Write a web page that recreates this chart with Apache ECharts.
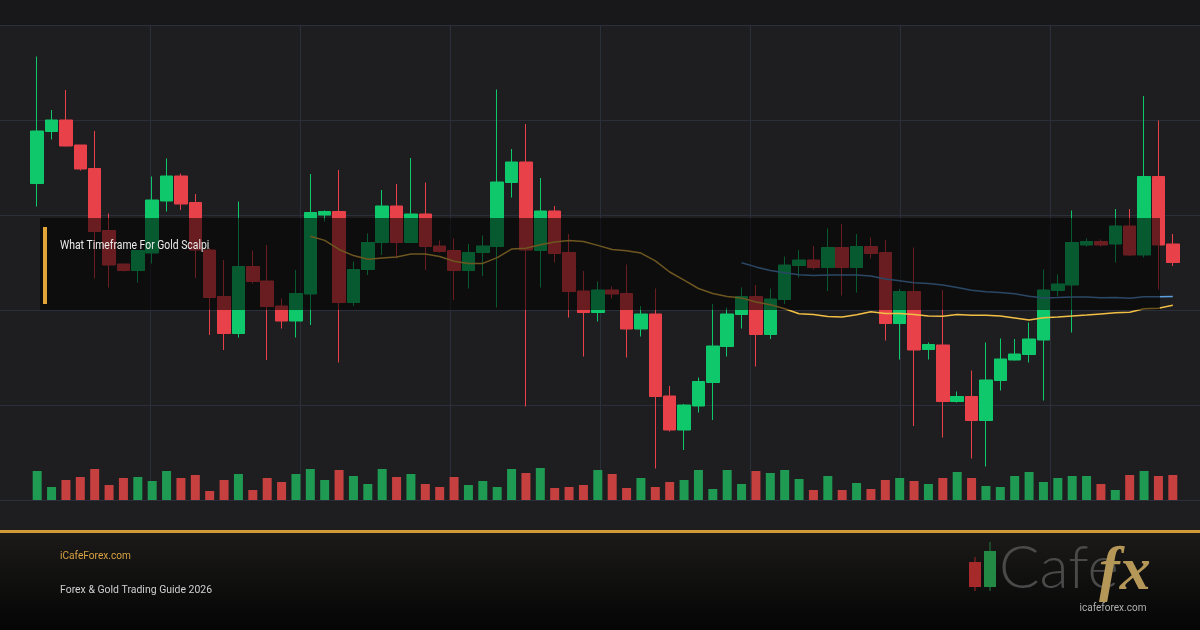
<!DOCTYPE html>
<html>
<head>
<meta charset="utf-8">
<title>What Timeframe For Gold Scalping</title>
<script src="https://cdn.jsdelivr.net/npm/echarts@6/dist/echarts.min.js"></script>
<style>
  html, body { margin: 0; padding: 0; background: #1e1e20; }
  #chart { width: 1200px; height: 630px; }
</style>
</head>
<body>
<div id="chart"></div>
<script>
// candle values (XAU/USD)
const open = [
  2363.3, 2373.7, 2376.0, 2371.0, 2366.3, 2353.9, 2347.2, 2345.9, 2349.4, 2359.8,
  2364.8, 2359.5, 2350.0, 2340.7, 2333.3, 2346.7, 2343.8, 2338.8, 2335.8, 2341.2,
  2357.0, 2357.7, 2339.5, 2346.1, 2351.5, 2358.8, 2351.5, 2357.2, 2350.8, 2349.9,
  2345.9, 2349.5, 2350.7, 2363.5, 2367.6, 2349.9, 2357.8, 2349.5, 2341.8, 2337.5,
  2342.0, 2341.3, 2334.2, 2337.2, 2320.8, 2314.0, 2318.8, 2323.5, 2330.7, 2337.1,
  2340.7, 2333.1, 2340.1, 2346.9, 2348.0, 2346.5, 2350.5, 2346.5, 2350.7, 2349.5,
  2335.3, 2341.7, 2330.1, 2331.0, 2319.7, 2320.7, 2315.9, 2323.9, 2328.0, 2329.1,
  2332.0, 2341.9, 2343.0, 2351.0, 2351.7, 2351.2, 2354.8, 2349.0, 2364.7, 2351.2
];
const close = [
  2373.8, 2376.0, 2370.8, 2366.2, 2353.7, 2347.0, 2345.9, 2349.9, 2360.0, 2364.8,
  2359.2, 2350.0, 2340.5, 2333.3, 2346.7, 2343.7, 2338.7, 2335.8, 2341.3, 2357.5,
  2357.7, 2339.5, 2346.1, 2351.5, 2358.8, 2351.5, 2357.2, 2350.7, 2349.7, 2345.9,
  2349.5, 2350.8, 2363.6, 2367.6, 2350.0, 2357.8, 2349.3, 2341.7, 2337.5, 2342.0,
  2341.2, 2334.2, 2337.2, 2320.7, 2314.0, 2319.0, 2323.7, 2330.8, 2337.2, 2340.7,
  2333.1, 2340.2, 2347.0, 2348.0, 2346.5, 2350.5, 2346.5, 2350.7, 2349.3, 2335.3,
  2341.7, 2330.0, 2331.1, 2319.7, 2320.7, 2315.9, 2324.0, 2328.2, 2329.2, 2332.2,
  2342.0, 2343.2, 2351.5, 2351.7, 2351.0, 2354.8, 2349.0, 2364.7, 2351.0, 2347.5
];
const low = [
  2358.7, 2372.1, 2370.7, 2365.9, 2344.3, 2342.5, 2345.7, 2343.5, 2347.3, 2357.7,
  2358.0, 2344.4, 2333.0, 2330.0, 2332.5, 2343.3, 2328.0, 2334.3, 2332.5, 2335.0,
  2355.7, 2327.5, 2338.8, 2345.0, 2349.0, 2348.3, 2351.4, 2346.0, 2349.5, 2340.0,
  2342.3, 2344.8, 2338.5, 2360.5, 2318.7, 2342.5, 2347.5, 2336.5, 2328.7, 2335.7,
  2340.3, 2328.5, 2332.7, 2306.3, 2313.7, 2310.0, 2317.5, 2316.0, 2328.7, 2334.3,
  2326.7, 2332.2, 2339.2, 2344.5, 2346.1, 2341.8, 2340.9, 2341.5, 2348.3, 2331.9,
  2328.1, 2314.8, 2328.1, 2312.5, 2319.5, 2308.3, 2306.7, 2321.9, 2327.9, 2327.5,
  2319.9, 2340.7, 2333.5, 2350.7, 2350.7, 2347.5, 2348.8, 2348.5, 2342.1, 2346.8
];
const high = [
  2388.7, 2378.0, 2382.0, 2371.0, 2373.8, 2357.3, 2347.2, 2349.9, 2364.7, 2368.3,
  2365.3, 2361.2, 2350.4, 2348.0, 2359.7, 2349.9, 2351.0, 2340.3, 2346.0, 2365.2,
  2357.9, 2366.0, 2347.7, 2353.3, 2362.0, 2363.2, 2368.4, 2363.5, 2351.9, 2352.3,
  2351.2, 2352.9, 2382.1, 2370.2, 2375.2, 2364.4, 2358.8, 2353.2, 2345.8, 2343.7,
  2342.7, 2347.1, 2338.8, 2342.3, 2322.8, 2319.2, 2324.5, 2339.2, 2338.5, 2342.5,
  2343.0, 2342.3, 2348.7, 2350.0, 2350.8, 2354.3, 2355.2, 2353.2, 2352.5, 2352.0,
  2342.2, 2350.5, 2331.5, 2342.0, 2321.7, 2325.9, 2331.5, 2332.3, 2332.2, 2335.5,
  2346.1, 2345.1, 2357.9, 2352.3, 2352.1, 2358.2, 2358.2, 2380.8, 2375.9, 2353.2
];
const volume = [
  2900, 1300, 2000, 2300, 3100, 1500, 2200, 2300, 1900, 2900,
  2200, 2500,  900, 2000, 2600, 1000, 2200, 1800, 2600, 3100,
  2000, 3000, 2400, 1600, 3100, 2300, 2600, 1600, 1300, 2300,
  1500, 1900, 1300, 3100, 2700, 3200, 1200, 1300, 1500, 3000,
  2600, 1200, 2200, 1300, 1800, 2000, 3000, 1100, 3000, 1600,
  2900, 2700, 3000, 2100, 1000, 2400, 1000, 1700, 1100, 2000,
  2200, 1900, 1600, 2200, 2800, 2200, 1400, 1300, 2400, 2800,
  1800, 2200, 2400, 2400, 1600, 1000, 2500, 2900, 2400, 2500
];
const categories = open.map((_, i) => 'Bar ' + (i + 1));

const titleText = 'What Timeframe For Gold Scalpi';
const siteText = 'iCafeForex.com';
const guideText = 'Forex & Gold Trading Guide 2026';

const upColor = '#10c86c';
const downColor = '#e8414a';
const volUp = '#1f9a52';
const volDown = '#c5403f';
const lineColor = '#2b2f3c';

// simple moving average of closes
function movingAverage(n) {
  return close.map((_, i) => {
    if (i < n - 1) return '-';
    let s = 0;
    for (let k = i - n + 1; k <= i; k++) s += close[k];
    return +(s / n).toFixed(2);
  });
}

const chart = echarts.init(document.getElementById('chart'));

const hidden = { axisLine: { show: false }, axisTick: { show: false }, axisLabel: { show: false } };

const option = {
  backgroundColor: '#1e1e20',
  animation: false,
  grid: [
    { left: 30, right: 20, top: 0, bottom: 130 },    // candles
    { left: 30, right: 20, top: 440, bottom: 130 },  // volume
    { left: 0, right: 0, top: 25, bottom: 130 },     // horizontal background lines
    { left: 150, right: 150, top: 25, bottom: 130 }  // vertical background lines
  ],
  xAxis: [
    { type: 'category', data: categories, gridIndex: 0, ...hidden, splitLine: { show: false } },
    { type: 'category', data: categories, gridIndex: 1, ...hidden, splitLine: { show: false } },
    { type: 'value', gridIndex: 2, min: 0, max: 1200, ...hidden, splitLine: { show: false } },
    { type: 'value', gridIndex: 3, min: 0, max: 900, interval: 150, ...hidden,
      splitLine: { show: true, lineStyle: { color: lineColor, width: 1 } } }
  ],
  yAxis: [
    { type: 'value', gridIndex: 0, min: 2300, max: 2400, ...hidden, splitLine: { show: false } },
    { type: 'value', gridIndex: 1, min: 0, max: 6000, ...hidden, splitLine: { show: false } },
    { type: 'value', gridIndex: 2, min: 0, max: 475, interval: 95, ...hidden,
      splitLine: { show: true, lineStyle: { color: lineColor, width: 1 } } },
    { type: 'value', gridIndex: 3, min: 0, max: 475, ...hidden, splitLine: { show: false } }
  ],
  series: [
    {
      name: 'XAUUSD',
      type: 'candlestick',
      xAxisIndex: 0,
      yAxisIndex: 0,
      barWidth: 13,
      data: open.map((o, i) => [o, close[i], low[i], high[i]]),
      itemStyle: {
        color: upColor,
        color0: downColor,
        borderColor: upColor,
        borderColor0: downColor,
        borderWidth: 1
      },
      emphasis: { disabled: true }
    },
    {
      name: 'MA20',
      type: 'line',
      xAxisIndex: 0,
      yAxisIndex: 0,
      data: movingAverage(20),
      showSymbol: false,
      lineStyle: { color: '#f2bf45', width: 1.5 },
      z: 3,
      emphasis: { disabled: true }
    },
    {
      name: 'MA50',
      type: 'line',
      xAxisIndex: 0,
      yAxisIndex: 0,
      data: movingAverage(50),
      showSymbol: false,
      lineStyle: { color: '#5d9fe0', width: 1.5 },
      z: 3,
      emphasis: { disabled: true }
    },
    {
      name: 'Volume',
      type: 'bar',
      xAxisIndex: 1,
      yAxisIndex: 1,
      barWidth: 9,
      data: volume.map((v, i) => ({
        value: v,
        itemStyle: { color: close[i] >= open[i] ? volUp : volDown }
      })),
      emphasis: { disabled: true }
    }
  ],
  graphic: [
    // darker strip at the very top
    { type: 'rect', z: -10, shape: { x: 0, y: 0, width: 1200, height: 25 }, style: { fill: '#18181b' } },
    // footer
    { type: 'rect', z: 10, shape: { x: 0, y: 533, width: 1200, height: 97 },
      style: { fill: new echarts.graphic.LinearGradient(0, 0, 0, 1, [
        { offset: 0, color: '#1b1a19' },
        { offset: 1, color: '#050505' }
      ]) } },
    { type: 'rect', z: 11, shape: { x: 0, y: 530, width: 1200, height: 3 }, style: { fill: '#d39a38' } },
    { type: 'text', z: 12, x: 60, y: 556, scaleX: 0.92,
      style: { text: siteText, fill: '#d9a242', font: '11px Roboto', verticalAlign: 'middle' } },
    { type: 'text', z: 12, x: 60, y: 590, scaleX: 0.95,
      style: { text: guideText, fill: '#d0d0d0', font: '11px Roboto', verticalAlign: 'middle' } },
    // logo
    { type: 'line', z: 12, shape: { x1: 975, y1: 557, x2: 975, y2: 591 }, style: { stroke: '#9e2626', lineWidth: 1 } },
    { type: 'rect', z: 12, shape: { x: 969, y: 562, width: 12, height: 25 }, style: { fill: '#a62a2a' } },
    { type: 'line', z: 12, shape: { x1: 990, y1: 542, x2: 990, y2: 591 }, style: { stroke: '#1f7a3c', lineWidth: 1 } },
    { type: 'rect', z: 12, shape: { x: 984, y: 551, width: 12, height: 36 }, style: { fill: '#238a45' } },
    { type: 'text', z: 12, x: 999, y: 569, style: { text: 'Cafe', fill: '#4a4a4a', font: '300 60px Lato', verticalAlign: 'middle' } },
    { type: 'text', z: 12, x: 1099, y: 573, style: { text: 'fx', fill: '#b59758', font: 'italic bold 62px "Liberation Serif"', verticalAlign: 'middle' } },
    { type: 'text', z: 12, x: 1113, y: 608, style: { text: 'icafeforex.com', fill: '#b0b0b0', font: '10px Roboto', align: 'center', verticalAlign: 'middle' } },
    // dark title band over the chart
    { type: 'rect', z: 50, shape: { x: 40, y: 218, width: 1120, height: 92 }, style: { fill: 'rgba(0,0,0,0.55)' } },
    { type: 'rect', z: 51, shape: { x: 43, y: 227, width: 4, height: 77 }, style: { fill: '#e2a436' } },
    { type: 'text', z: 51, x: 60, y: 246, scaleX: 0.83,
      style: { text: titleText, fill: '#ececec', font: '12.5px Roboto', verticalAlign: 'middle' } }
  ]
};

chart.setOption(option);
</script>
</body>
</html>
